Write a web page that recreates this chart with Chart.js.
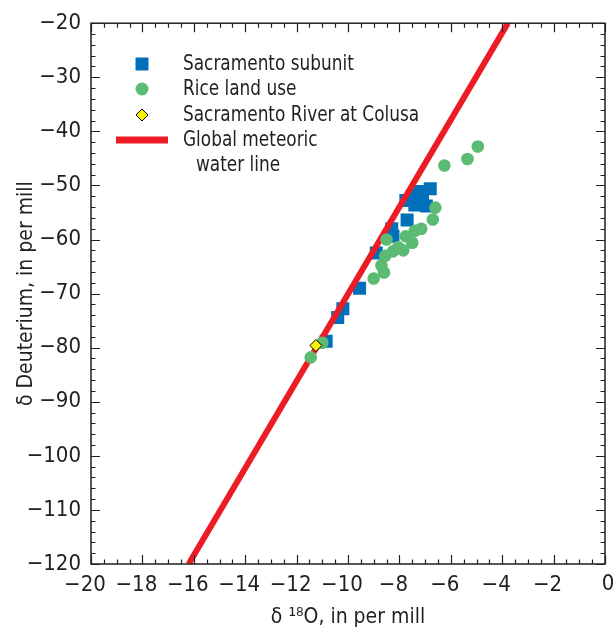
<!DOCTYPE html>
<html>
<head>
<meta charset="utf-8">
<script src="https://cdn.jsdelivr.net/npm/chart.js@4"></script>
<style>
  body { margin: 0; background: #fff; }
  #wrap { width: 613px; height: 633px; }
</style>
</head>
<body>
<div id="wrap"><canvas id="isoChart" width="613" height="633"></canvas></div>
<script>
// Sacramento subunit (blue squares)
const subunitX = [-6.8, -7.2, -7.45, -7.75, -7.4, -6.95, -7.1, -7.7, -8.3, -8.25, -8.9, -9.55, -10.2, -10.4, -10.85];
const subunitY = [-50.6, -51.1, -51.8, -52.8, -53.6, -53.8, -52.6, -56.4, -58.0, -59.4, -62.5, -69.0, -72.8, -74.4, -78.8];

// Rice land use (green circles)
const riceX = [-4.95, -5.35, -6.25, -6.6, -6.7, -7.15, -7.4, -7.75, -7.5, -7.85, -8.05, -8.25, -8.5, -8.55, -8.7, -8.6, -9.0, -11.0, -11.45];
const riceY = [-42.8, -45.1, -46.3, -54.1, -56.3, -58.0, -58.4, -59.4, -60.6, -62.0, -61.4, -62.2, -60.0, -63.0, -64.8, -66.1, -67.2, -79.1, -81.8];

// Sacramento River at Colusa (yellow diamond)
const colusaX = [-11.25];
const colusaY = [-79.6];

// Global meteoric water line, end points
const gmwlX = [-16.2, -3.78];
const gmwlY = [-120, -20];

const legendLabels = ['Sacramento subunit', 'Rice land use', 'Sacramento River at Colusa', 'Global meteoric', 'water line'];

const FONT = '"DejaVu Sans Condensed", "Liberation Sans Narrow", "Noto Sans", sans-serif';
const INK = '#231f20';

function toPoints(xs, ys) {
    return xs.map((x, i) => ({ x: x, y: ys[i] }));
}

function fmt(v) {
    return v < 0 ? '\u2212' + Math.abs(v) : String(v);
}

// inner tick marks, the frame, and the "0" label that runs off the right edge
const frameTicks = {
    id: 'frameTicks',
    afterDraw(chart) {
        const ctx = chart.ctx;
        const a = chart.chartArea;
        const xs = chart.scales.x;
        const ys = chart.scales.y;
        ctx.save();
        ctx.strokeStyle = INK;
        ctx.lineWidth = 1.5;
        ctx.strokeRect(a.left, a.top, a.right - a.left, a.bottom - a.top);
        ctx.lineWidth = 1.2;
        ctx.beginPath();
        for (let v = -20; v <= 0.001; v += 0.5) {
            const px = Math.round(xs.getPixelForValue(v)) + 0.5;
            const len = Math.abs(v % 2) < 0.001 ? 9 : 4.5;
            ctx.moveTo(px, a.bottom); ctx.lineTo(px, a.bottom - len);
            ctx.moveTo(px, a.top); ctx.lineTo(px, a.top + len);
        }
        for (let v = -120; v <= -20; v += 2) {
            const py = Math.round(ys.getPixelForValue(v)) + 0.5;
            const len = v % 10 === 0 ? 9 : 4.5;
            ctx.moveTo(a.left, py); ctx.lineTo(a.left + len, py);
            ctx.moveTo(a.right, py); ctx.lineTo(a.right - len, py);
        }
        ctx.stroke();

        ctx.fillStyle = INK;
        ctx.font = '22px ' + FONT;
        ctx.textAlign = 'center';
        ctx.textBaseline = 'middle';
        ctx.fillText('0', xs.getPixelForValue(0) + 3, a.bottom + 20);
        ctx.restore();
    }
};

// legend sits inside the plot, top left
const innerLegend = {
    id: 'innerLegend',
    afterDraw(chart) {
        const ctx = chart.ctx;
        ctx.save();
        const mx = 142;
        const tx = 183;
        const rows = [64, 89, 115, 140];

        ctx.fillStyle = '#0070bb';
        ctx.fillRect(mx - 6.5, rows[0] - 6.5, 13, 13);

        ctx.fillStyle = '#5bbb73';
        ctx.beginPath();
        ctx.arc(mx, rows[1], 6.5, 0, Math.PI * 2);
        ctx.fill();

        ctx.fillStyle = '#fff200';
        ctx.strokeStyle = '#000';
        ctx.lineWidth = 1;
        ctx.beginPath();
        ctx.moveTo(mx, rows[2] - 6);
        ctx.lineTo(mx + 6, rows[2]);
        ctx.lineTo(mx, rows[2] + 6);
        ctx.lineTo(mx - 6, rows[2]);
        ctx.closePath();
        ctx.fill();
        ctx.stroke();

        ctx.strokeStyle = '#ed1c24';
        ctx.lineWidth = 7;
        ctx.beginPath();
        ctx.moveTo(116, rows[3]);
        ctx.lineTo(168, rows[3]);
        ctx.stroke();

        // narrow the text to match the condensed face of the original
        const k = 0.855;
        ctx.fillStyle = INK;
        ctx.font = '22px ' + FONT;
        ctx.textBaseline = 'middle';
        ctx.textAlign = 'left';
        ctx.scale(k, 1);
        ctx.fillText(legendLabels[0], tx / k, rows[0]);
        ctx.fillText(legendLabels[1], tx / k, rows[1]);
        ctx.fillText(legendLabels[2], tx / k, rows[2]);
        ctx.fillText(legendLabels[3], tx / k, rows[3]);
        ctx.fillText(legendLabels[4], (tx + 13) / k, 165);
        ctx.restore();
    }
};

new Chart(document.getElementById('isoChart'), {
    type: 'scatter',
    data: {
        datasets: [
            {
                label: 'Sacramento subunit',
                data: toPoints(subunitX, subunitY),
                pointStyle: 'rect',
                pointRadius: 9.2,
                pointHoverRadius: 9.2,
                backgroundColor: '#0070bb',
                borderWidth: 0,
                order: 4
            },
            {
                type: 'line',
                label: 'Global meteoric water line',
                data: toPoints(gmwlX, gmwlY),
                borderColor: '#ed1c24',
                borderWidth: 6,
                pointRadius: 0,
                fill: false,
                order: 3
            },
            {
                label: 'Rice land use',
                data: toPoints(riceX, riceY),
                pointStyle: 'circle',
                pointRadius: 6.3,
                pointHoverRadius: 6.3,
                backgroundColor: '#5bbb73',
                borderWidth: 0,
                order: 2
            },
            {
                label: 'Sacramento River at Colusa',
                data: toPoints(colusaX, colusaY),
                pointStyle: 'rectRot',
                pointRadius: 6,
                pointHoverRadius: 6,
                backgroundColor: '#fff200',
                borderColor: '#000',
                borderWidth: 1,
                order: 1
            }
        ]
    },
    options: {
        responsive: false,
        animation: false,
        events: [],
        layout: {
            autoPadding: false,
            padding: { top: 19, right: 3, left: 0, bottom: 0 }
        },
        plugins: {
            legend: { display: false },
            tooltip: { enabled: false }
        },
        scales: {
            x: {
                type: 'linear',
                min: -20,
                max: 0,
                afterFit(scale) { scale.height = 69; },
                grid: { display: false, drawTicks: false },
                border: { display: false },
                ticks: {
                    stepSize: 2,
                    padding: 8,
                    labelOffset: -6,
                    color: INK,
                    font: { family: FONT, size: 22 },
                    // the last label is drawn by frameTicks so it can run off the edge
                    callback: (v) => (v === 0 ? '' : fmt(v))
                },
                title: {
                    display: true,
                    text: '\u03b4 \u00b9\u2078O, in per mill',
                    color: INK,
                    font: { family: FONT, size: 21, lineHeight: 1.2 },
                    padding: { top: 0, bottom: 3 }
                }
            },
            y: {
                type: 'linear',
                min: -120,
                max: -20,
                afterFit(scale) { scale.width = 91; },
                grid: { display: false, drawTicks: false },
                border: { display: false },
                ticks: {
                    stepSize: 10,
                    padding: 10,
                    color: INK,
                    font: { family: FONT, size: 22 },
                    callback: (v) => fmt(v)
                },
                title: {
                    display: true,
                    text: '\u03b4 Deuterium, in per mill',
                    color: INK,
                    font: { family: FONT, size: 21, lineHeight: 1.2 },
                    padding: { top: 14, bottom: 0 }
                }
            }
        }
    },
    plugins: [frameTicks, innerLegend]
});
</script>
</body>
</html>
